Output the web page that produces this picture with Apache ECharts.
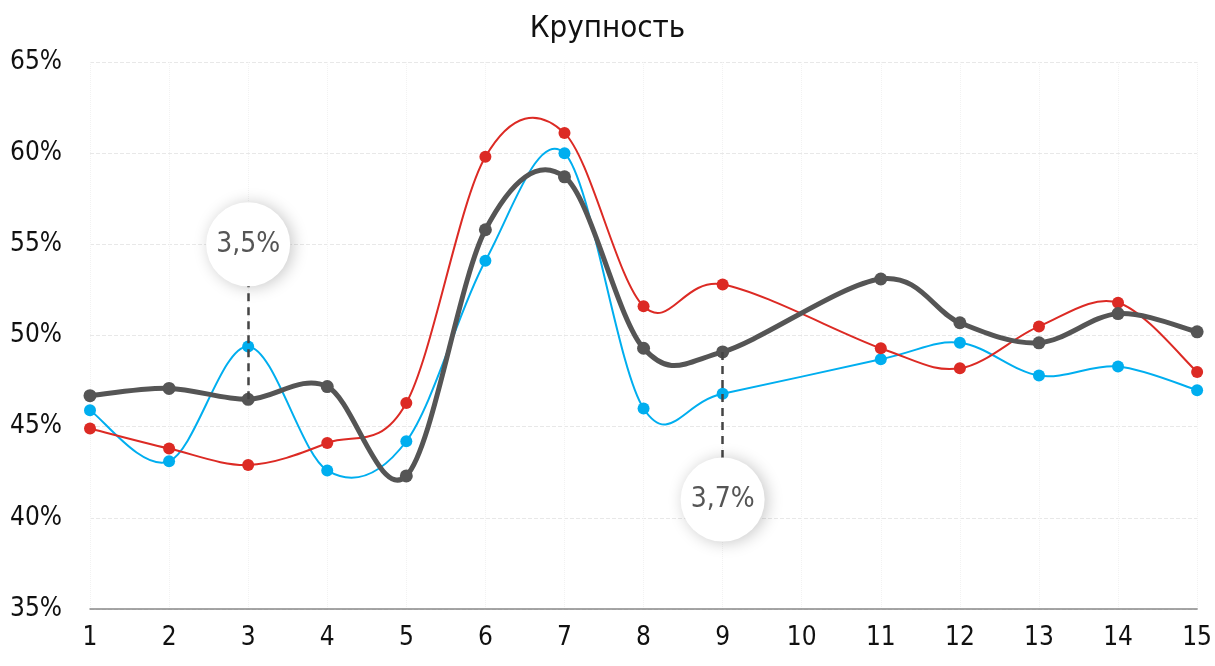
<!DOCTYPE html>
<html>
<head>
<meta charset="utf-8">
<style>
  html, body { margin: 0; padding: 0; background: #fff; }
  #chart { width: 1215px; height: 666px; }
</style>
<script src="https://cdn.jsdelivr.net/npm/echarts@6/dist/echarts.min.js"></script>
</head>
<body>
<div id="chart"></div>
<script>
var chart = echarts.init(document.getElementById('chart'));

var FONT = "'DejaVu Sans Condensed', 'DejaVu Sans', sans-serif";

// ось X
var categories = ['1', '2', '3', '4', '5', '6', '7', '8', '9', '10', '11', '12', '13', '14', '15'];

// значения, % (в точке 10 данных нет)
var grayValues = [46.7, 47.1, 46.5, 47.2, 42.3, 55.8, 58.7, 49.3, 49.1, null, 53.1, 50.7, 49.6, 51.2, 50.2];
var redValues  = [44.9, 43.8, 42.9, 44.1, 46.3, 59.8, 61.1, 51.6, 52.8, null, 49.3, 48.2, 50.5, 51.8, 48.0];
var blueValues = [45.9, 43.1, 49.4, 42.6, 44.2, 54.1, 60.0, 46.0, 46.8, null, 48.7, 49.6, 47.8, 48.3, 47.0];

// выноски
var noteText = ['3,5%', '3,7%'];
var noteCat  = ['3', '9'];
var noteLevel = [55, 41];

var noteLines = [];
var notePoints = [];
for (var i = 0; i < noteText.length; i++) {
    var idx = categories.indexOf(noteCat[i]);
    noteLines.push([
        { coord: [idx, grayValues[idx]] },
        { coord: [idx, noteLevel[i]] }
    ]);
    notePoints.push({ coord: [idx, noteLevel[i]], value: noteText[i] });
}

// кривая Катмулла-Рома через точки, пропуская пустые
function curveSeries(name, values, color, width, size, z) {
    var pts = [];
    values.forEach(function (v, k) {
        if (v != null) pts.push([k, v]);
    });
    return {
        name: name,
        type: 'custom',
        z: z,
        data: pts,
        encode: { x: 0, y: 1 },
        renderItem: function (params, api) {
            var i = params.dataIndex;
            var p = function (k) {
                k = Math.max(0, Math.min(pts.length - 1, k));
                return api.coord(pts[k]);
            };
            var p1 = p(i);
            var children = [];
            if (i < pts.length - 1) {
                var p0 = p(i - 1), p2 = p(i + 1), p3 = p(i + 2);
                children.push({
                    type: 'bezierCurve',
                    z2: 0,
                    shape: {
                        x1: p1[0], y1: p1[1],
                        x2: p2[0], y2: p2[1],
                        cpx1: p1[0] + (p2[0] - p0[0]) / 6,
                        cpy1: p1[1] + (p2[1] - p0[1]) / 6,
                        cpx2: p2[0] - (p3[0] - p1[0]) / 6,
                        cpy2: p2[1] - (p3[1] - p1[1]) / 6
                    },
                    style: { stroke: color, lineWidth: width, fill: 'none', lineCap: 'round' }
                });
            }
            children.push({
                type: 'circle',
                z2: 10,
                shape: { cx: p1[0], cy: p1[1], r: size / 2 },
                style: { fill: color }
            });
            return { type: 'group', children: children };
        }
    };
}

var graySeries = curveSeries('gray', grayValues, '#555555', 5, 13, 4);
graySeries.markLine = {
    silent: true,
    symbol: 'none',
    z: 5,
    label: { show: false },
    lineStyle: { color: '#444', width: 2.5, type: [8, 6], opacity: 1 },
    data: noteLines
};
graySeries.markPoint = {
    silent: true,
    symbol: 'circle',
    symbolSize: 84,
    z: 6,
    itemStyle: {
        color: '#fff',
        shadowBlur: 16,
        shadowColor: 'rgba(0,0,0,0.22)',
        shadowOffsetX: 3,
        shadowOffsetY: 1
    },
    label: {
        show: true,
        position: 'inside',
        formatter: '{c}',
        fontFamily: FONT,
        fontSize: 28,
        color: '#555'
    },
    data: notePoints
};

var option = {
    animation: false,
    title: {
        text: 'Крупность',
        left: 'center',
        top: 8,
        textStyle: { fontFamily: FONT, fontSize: 31, fontWeight: 'normal', color: '#111' }
    },
    grid: { left: 90, right: 16, top: 62, bottom: 57 },
    xAxis: {
        type: 'category',
        data: categories,
        boundaryGap: false,
        axisLine: { lineStyle: { color: '#888', width: 1.5 } },
        axisTick: { show: false },
        axisLabel: { fontFamily: FONT, fontSize: 26, color: '#111', margin: 16 },
        splitLine: { show: true, lineStyle: { color: '#f2f2f2', type: 'dotted' } }
    },
    yAxis: {
        type: 'value',
        min: 35,
        max: 65,
        interval: 5,
        axisLine: { show: false },
        axisTick: { show: false },
        axisLabel: { formatter: '{value}%', fontFamily: FONT, fontSize: 26, color: '#111', margin: 28 },
        splitLine: { lineStyle: { color: '#e8e8e8', type: 'dashed' } }
    },
    series: [
        curveSeries('blue', blueValues, '#00aeef', 2, 12, 2),
        curveSeries('red', redValues, '#dc2a24', 2, 12, 3),
        graySeries
    ]
};

chart.setOption(option);
</script>
</body>
</html>
